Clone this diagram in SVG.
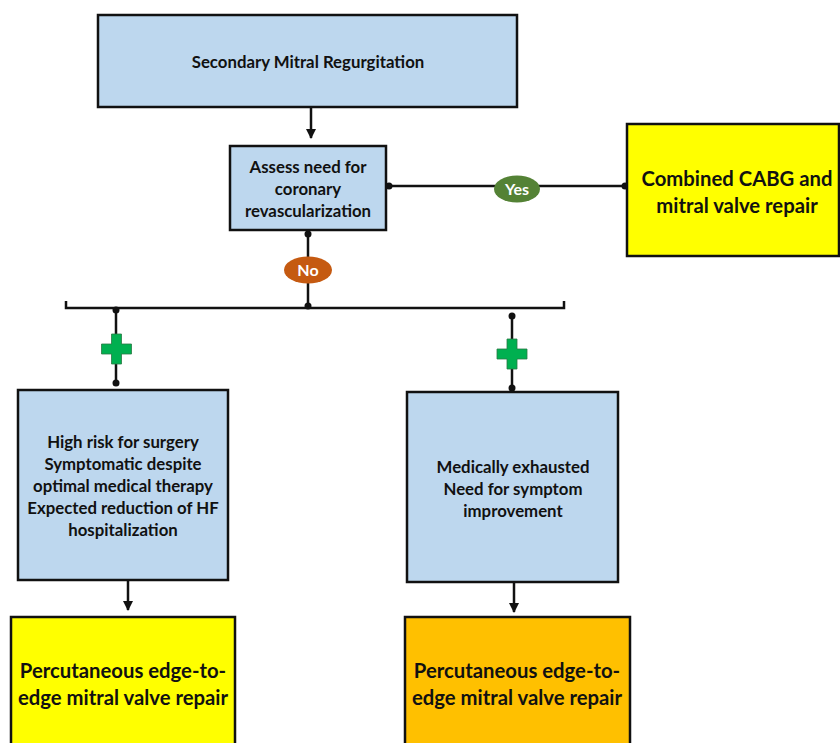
<svg xmlns="http://www.w3.org/2000/svg" width="840" height="743" viewBox="0 0 840 743">
<defs>
<style>
.box{stroke:#111;stroke-width:2.5}
.blue{fill:#BDD7EE}
.yel{fill:#FFFF00}
.org{fill:#FFC000}
.t{font-family:Lato,"Open Sans","Liberation Sans",sans-serif;font-weight:bold;fill:#111;text-anchor:middle}
.s15{font-size:16.8px}
.s19{font-size:20.3px}
.ln{stroke:#111;stroke-width:2.5;fill:none}
.dot{fill:#111}
.lbl{font-family:Lato,"Open Sans","Liberation Sans",sans-serif;font-weight:bold;fill:#fff;text-anchor:middle;font-size:16px}
.plus{fill:#00B050;stroke:#2a7a44;stroke-width:0.8}
</style>
<marker id="ah" viewBox="0 0 10 10" refX="9" refY="5" markerWidth="4" markerHeight="4" orient="auto" markerUnits="strokeWidth">
<path d="M0,0 L10,5 L0,10 z" fill="#111"/>
</marker>
</defs>
<rect width="840" height="743" fill="#fff"/>
<g id="connectors">
<line class="ln" x1="311" y1="108" x2="311" y2="138" marker-end="url(#ah)"/>
<line class="ln" x1="389" y1="186" x2="626" y2="186"/>
<circle class="dot" cx="389" cy="186" r="3.5"/>
<circle class="dot" cx="625" cy="186" r="3.5"/>
<line class="ln" x1="308" y1="232" x2="308" y2="308"/>
<circle class="dot" cx="308" cy="234" r="3.5"/>
<circle class="dot" cx="308" cy="306" r="3.5"/>
<path class="ln" d="M66,301 V308 H564 V301"/>
<line class="ln" x1="116" y1="308" x2="116" y2="383"/>
<circle class="dot" cx="116" cy="310" r="3.5"/>
<circle class="dot" cx="116" cy="383" r="3.5"/>
<line class="ln" x1="512" y1="316" x2="512" y2="389"/>
<circle class="dot" cx="512" cy="316" r="3.5"/>
<circle class="dot" cx="512" cy="388" r="3.5"/>
<line class="ln" x1="128" y1="581" x2="128" y2="610" marker-end="url(#ah)"/>
<line class="ln" x1="514" y1="583" x2="514" y2="612" marker-end="url(#ah)"/>
</g>
<g id="yes-label">
<ellipse cx="517" cy="189" rx="23" ry="13.5" fill="#548235"/>
<text class="lbl" x="517" y="194.5">Yes</text>
</g>
<g id="no-label">
<ellipse cx="308" cy="270" rx="24" ry="13.5" fill="#C55A11"/>
<text class="lbl" x="308" y="275.5">No</text>
</g>
<g id="plus-left">
<path class="plus" d="M111.5,334 h10 v10 h10 v10 h-10 v10 h-10 v-10 h-10 v-10 h10 z"/>
</g>
<g id="plus-right">
<path class="plus" d="M507,339 h10 v10 h10 v10 h-10 v10 h-10 v-10 h-10 v-10 h10 z"/>
</g>
<g id="smr">
<rect class="box blue" x="98" y="15" width="419" height="92"/>
<text class="t s15" x="308" y="68">Secondary Mitral Regurgitation</text>
</g>
<g id="assess">
<rect class="box blue" x="230" y="146" width="156" height="84"/>
<text class="t s15" x="308" y="173">Assess need for</text>
<text class="t s15" x="308" y="195">coronary</text>
<text class="t s15" x="308" y="217">revascularization</text>
</g>
<g id="cabg">
<rect class="box yel" x="627" y="124" width="212" height="132"/>
<text class="t s19" x="737" y="186">Combined CABG and</text>
<text class="t s19" x="737" y="213">mitral valve repair</text>
</g>
<g id="highrisk">
<rect class="box blue" x="18" y="390" width="210" height="190"/>
<text class="t s15" x="123" y="448">High risk for surgery</text>
<text class="t s15" x="123" y="470">Symptomatic despite</text>
<text class="t s15" x="123" y="492">optimal medical therapy</text>
<text class="t s15" x="123" y="514">Expected reduction of HF</text>
<text class="t s15" x="123" y="536">hospitalization</text>
</g>
<g id="exhausted">
<rect class="box blue" x="407" y="392" width="211" height="190"/>
<text class="t s15" x="513" y="473">Medically exhausted</text>
<text class="t s15" x="513" y="495">Need for symptom</text>
<text class="t s15" x="513" y="517">improvement</text>
</g>
<g id="teer-left">
<rect class="box yel" x="11" y="617" width="224" height="140"/>
<text class="t s19" x="123" y="678">Percutaneous edge-to-</text>
<text class="t s19" x="123" y="705">edge mitral valve repair</text>
</g>
<g id="teer-right">
<rect class="box org" x="405" y="617" width="225" height="140"/>
<text class="t s19" x="517" y="678">Percutaneous edge-to-</text>
<text class="t s19" x="517" y="705">edge mitral valve repair</text>
</g>
</svg>
